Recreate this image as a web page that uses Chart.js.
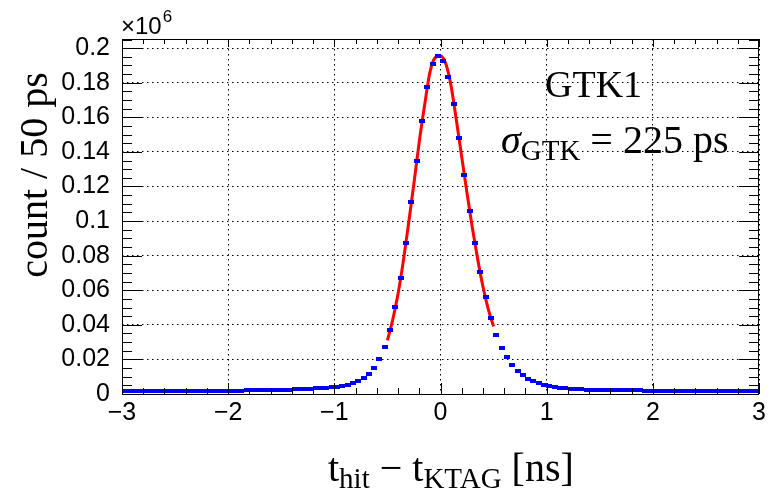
<!DOCTYPE html>
<html>
<head>
<meta charset="utf-8">
<script src="https://cdn.jsdelivr.net/npm/chart.js@4/dist/chart.umd.min.js"></script>
<style>
  html, body { margin: 0; padding: 0; background: #fff; }
  #wrap { width: 770px; height: 491px; position: relative; }
</style>
</head>
<body>
<div id="wrap"><canvas id="c" width="770" height="491"></canvas></div>
<script>
// ---- data ----
// bin centres of the 50 ps histogram, from -2.975 ns to 2.975 ns
const binCenters = [];
for (let i = 0; i < 120; i++) binCenters.push(Math.round((-2.975 + i * 0.05) * 1000) / 1000);

// counts per bin (x10^6)
const leftTail = [0.0015, 0.0015, 0.0016, 0.0015, 0.0016, 0.0016, 0.0016, 0.0017, 0.0016, 0.0017,
                  0.0017, 0.0017, 0.0018, 0.0017, 0.0018, 0.0018, 0.0018, 0.0019, 0.0019, 0.0019,
                  0.0019, 0.0020, 0.0020, 0.0021, 0.0021, 0.0022, 0.0022, 0.0023, 0.0024, 0.0024,
                  0.0025, 0.0026, 0.0027, 0.0028, 0.0029, 0.0031, 0.0032, 0.0034, 0.0036];
const leftCore = [0.0039, 0.0042, 0.0046, 0.0053, 0.0062, 0.0074, 0.0092, 0.0118, 0.0152, 0.0202,
                  0.0274, 0.0370, 0.0501, 0.0669, 0.0875, 0.1109, 0.1349, 0.1579, 0.1774, 0.1909,
                  0.1955];
const rightCore = [0.1926, 0.1832, 0.1676, 0.1479, 0.1267, 0.1057, 0.0873, 0.0704, 0.0559, 0.0438,
                   0.0343, 0.0268, 0.0212, 0.0168, 0.0133, 0.0108, 0.0087, 0.0073, 0.0062, 0.0054,
                   0.0046, 0.0041, 0.0037, 0.0034, 0.0031, 0.0029, 0.0027, 0.0026, 0.0025, 0.0024];
const rightTail = [0.0023, 0.0023, 0.0022, 0.0022, 0.0022, 0.0021, 0.0021, 0.0021, 0.0020, 0.0020,
                   0.0020, 0.0020, 0.0019, 0.0019, 0.0019, 0.0019, 0.0019, 0.0018, 0.0018, 0.0018,
                   0.0018, 0.0018, 0.0018, 0.0017, 0.0017, 0.0017, 0.0017, 0.0017, 0.0017, 0.0017];
const counts = leftTail.concat(leftCore, rightCore, rightTail);

// Gaussian fit curve
const fitX = [-0.50, -0.45, -0.40, -0.35, -0.30, -0.25, -0.20, -0.15, -0.10, -0.05, 0.00,
               0.05, 0.10, 0.15, 0.20, 0.25, 0.30, 0.35, 0.40, 0.45, 0.50];
const fitY = [0.031, 0.043, 0.058, 0.077, 0.099, 0.122, 0.146, 0.167, 0.186, 0.1945, 0.1955,
              0.191, 0.178, 0.158, 0.137, 0.116, 0.096, 0.078, 0.062, 0.049, 0.039];

// ticks
const xTicks = [-3, -2, -1, 0, 1, 2, 3];
const xTickLabels = ['\u22123', '\u22122', '\u22121', '0', '1', '2', '3'];
const yTicks = [0, 0.02, 0.04, 0.06, 0.08, 0.1, 0.12, 0.14, 0.16, 0.18, 0.2];
const yTickLabels = ['0', '0.02', '0.04', '0.06', '0.08', '0.1', '0.12', '0.14', '0.16', '0.18', '0.2'];

// ---- chart ----
const marker = document.createElement('canvas');
marker.width = 6; marker.height = 4;
(function () { const m = marker.getContext('2d'); m.fillStyle = 'rgb(0,0,245)'; m.fillRect(0, 0, 6, 4); })();

const SANS = '"Liberation Sans", Arial, Helvetica, sans-serif';
const SERIF = '"Liberation Serif", "Times New Roman", Times, serif';

const decor = {
  id: 'decor',
  afterDraw(chart) {
    const ctx = chart.ctx;
    const a = chart.chartArea;
    const xs = chart.scales.x, ys = chart.scales.y;
    ctx.save();
    ctx.strokeStyle = '#000';
    ctx.lineWidth = 1;
    // frame
    ctx.strokeRect(Math.round(a.left) + 0.5, Math.round(a.top) + 0.5,
                   Math.round(a.right - a.left) - 1, Math.round(a.bottom - a.top));
    ctx.beginPath();
    // x ticks (inward), major each 1, minor each 0.2
    for (let k = -15; k <= 15; k++) {
      const v = k / 5;
      const px = Math.round(xs.getPixelForValue(v)) + 0.5;
      const major = k % 5 === 0;
      const lb = major ? 11 : 6, lt = major ? 8 : 5;
      ctx.moveTo(px, a.bottom); ctx.lineTo(px, a.bottom - lb);
      ctx.moveTo(px, a.top); ctx.lineTo(px, a.top + lt);
    }
    // y ticks (inward), major each 0.02, minor each 0.005
    for (let k = 0; k <= 41; k++) {
      const v = k * 0.005;
      if (v > ys.max) break;
      const py = Math.round(ys.getPixelForValue(v)) + 0.5;
      const len = (k % 4 === 0) ? 20 : 10;
      ctx.moveTo(a.left, py); ctx.lineTo(a.left + len, py);
      ctx.moveTo(a.right, py); ctx.lineTo(a.right - len, py);
    }
    ctx.stroke();

    ctx.fillStyle = '#000';
    ctx.textBaseline = 'alphabetic';
    ctx.textAlign = 'left';
    // x10^6
    ctx.font = '24px ' + SANS;
    ctx.fillText('\u00d710', a.left - 1, 34);
    const w10 = ctx.measureText('\u00d710').width;
    ctx.font = '17px ' + SANS;
    ctx.fillText('6', a.left + w10, 22);

    // y title
    ctx.save();
    ctx.translate(47, 175);
    ctx.rotate(-Math.PI / 2);
    ctx.font = '40px ' + SERIF;
    ctx.textAlign = 'center';
    ctx.fillText('count / 50 ps', 0, 0);
    ctx.restore();

    // helper for runs of text with subscripts
    function run(parts, x, y) {
      for (const p of parts) {
        ctx.font = p.f;
        ctx.fillText(p.t, x, y + (p.dy || 0));
        x += ctx.measureText(p.t).width;
      }
      return x;
    }
    // x title
    run([
      { t: 't', f: '40px ' + SERIF },
      { t: 'hit', f: '29px ' + SERIF, dy: 7 },
      { t: ' \u2212 t', f: '40px ' + SERIF },
      { t: 'KTAG', f: '29px ' + SERIF, dy: 7 },
      { t: ' [ns]', f: '40px ' + SERIF }
    ], 328, 481);

    // annotations
    ctx.font = '38px ' + SERIF;
    ctx.fillText('GTK1', 545, 97);
    run([
      { t: '\u03c3', f: 'italic 40px ' + SERIF },
      { t: 'GTK', f: '29px ' + SERIF, dy: 7 },
      { t: ' = 225 ps', f: '40px ' + SERIF }
    ], 501, 153);
    ctx.restore();
  }
};

new Chart(document.getElementById('c'), {
  type: 'scatter',
  data: {
    datasets: [
      {
        label: 'data',
        data: binCenters.map((x, i) => ({ x: x, y: counts[i] })),
        pointStyle: marker,
        pointRadius: 3,
        showLine: false,
        order: 0
      },
      {
        label: 'fit',
        data: fitX.map((x, i) => ({ x: x, y: fitY[i] })),
        showLine: true,
        borderColor: 'rgb(255,0,0)',
        borderWidth: 3,
        pointRadius: 0,
        cubicInterpolationMode: 'monotone',
        fill: false,
        order: 1
      }
    ]
  },
  options: {
    responsive: false,
    animation: false,
    events: [],
    layout: { padding: { top: 39, right: 8, left: 0, bottom: 0 } },
    plugins: { legend: { display: false }, tooltip: { enabled: false }, title: { display: false } },
    scales: {
      x: {
        type: 'linear',
        min: -3, max: 3,
        afterBuildTicks: s => { s.ticks = xTicks.map(v => ({ value: v })); },
        afterFit: s => { s.height = 97; },
        ticks: {
          autoSkip: false,
          maxRotation: 0,
          padding: 4,
          color: '#000',
          font: { family: SANS, size: 25 },
          callback: (v, i) => xTickLabels[xTicks.indexOf(Math.round(v))]
        },
        grid: { color: '#000', lineWidth: 1, drawTicks: false },
        border: { display: false, dash: [1.5, 3.5] }
      },
      y: {
        type: 'linear',
        min: 0, max: 0.2053,
        afterBuildTicks: s => { s.ticks = yTicks.map(v => ({ value: v })); },
        afterFit: s => { s.width = 122; },
        ticks: {
          autoSkip: false,
          padding: 12,
          color: '#000',
          font: { family: SANS, size: 25 },
          callback: (v) => {
            const i = yTicks.findIndex(t => Math.abs(t - v) < 1e-9);
            return i >= 0 ? yTickLabels[i] : '';
          }
        },
        grid: { color: '#000', lineWidth: 1, drawTicks: false },
        border: { display: false, dash: [1.5, 3.5] }
      }
    }
  },
  plugins: [decor]
});
</script>
</body>
</html>
